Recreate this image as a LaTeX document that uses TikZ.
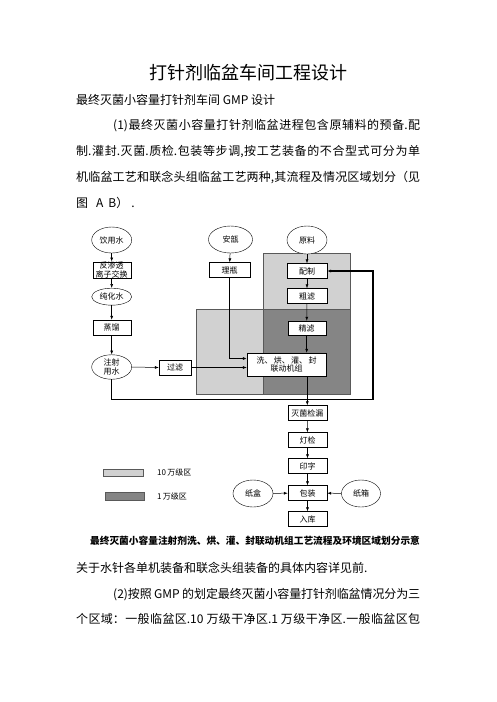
\documentclass[tikz,border=0pt]{standalone}
\usepackage{fontspec}
\setmainfont{Noto Sans CJK SC}
\usetikzlibrary{shapes.geometric,positioning,arrows.meta}
\XeTeXlinebreaklocale "zh"
\XeTeXlinebreakskip = 0pt plus 2pt minus 0.4pt
\tikzset{
  procbox/.style={draw,fill=white,minimum width=39pt,minimum height=15pt,inner sep=0pt,align=center,font=\fontsize{8}{8.5}\selectfont},
  srcell/.style={draw,fill=white,ellipse,minimum width=40pt,minimum height=27pt,inner sep=0pt,align=center,font=\fontsize{8}{9}\selectfont},
  flow/.style={->,>={Latex[length=4pt,width=3pt]},line width=0.5pt},
  heavyflow/.style={->,>={Latex[length=4pt,width=3.2pt]},line width=1.1pt},
  lightzone/.style={fill=black!18,draw=black!65,line width=0.4pt},
  darkzone/.style={fill=black!48,draw=black!65,line width=0.4pt},
  bodytext/.style={font=\fontsize{12}{26}\selectfont,text width=344pt,align=justify,inner sep=0pt,anchor=base west},
}
\begin{document}
\begin{tikzpicture}[x=1pt,y=-1pt]
  \useasboundingbox (0,0) rectangle (496,702);
  % page text
  \node[inner sep=0pt,font=\fontsize{18}{20}\selectfont] (title) at (248,73) {打针剂临盆车间工程设计};
  \node[inner sep=0pt,anchor=west,font=\fontsize{12}{14}\selectfont] (subtitle) at (76,100) {最终灭菌小容量打针剂车间 GMP 设计};
  \node[bodytext] (para1) at (76,129.6) {\hspace*{37pt}(1)最终灭菌小容量打针剂临盆进程包含原辅料的预备.配\linebreak
制.灌封.灭菌.质检.包装等步调,按工艺装备的不合型式可分为单\linebreak
机临盆工艺和联念头组临盆工艺两种,其流程及情况区域划分（见\linebreak
图\hspace{8pt}A\hspace{5pt}B）\hspace{3pt}.};

  % zones
  \draw[lightzone] (263,253) -| (350,394) -| (196,309) -| cycle;
  \draw[darkzone] (263,309) rectangle (350,394);

  % water line
  \node[srcell,minimum height=26pt] (yys) at (111.7,240) {饮用水};
  \node[procbox,minimum width=38pt,minimum height=16pt] (fst) at (111.7,269.7) {反渗透\\离子交换};
  \node[srcell,minimum height=17pt] (chs) at (111.7,296.7) {纯化水};
  \node[procbox,minimum width=38pt] (zl) at (111.7,327.5) {蒸馏};
  \node[srcell,minimum height=24.5pt] (zsys) at (111.7,367) {注射\\用水};
  \node[procbox,minimum width=32pt] (gl) at (175,367.5) {过滤};

  % ampoules and raw material
  \node[srcell,minimum width=44pt] (ab) at (230.5,239.5) {安瓿};
  \node[procbox,minimum width=41pt] (lp) at (229.5,270) {理瓶};
  \node[srcell,minimum height=28pt] (yl) at (307,240) {原料};
  \node[procbox,minimum width=40pt] (pz) at (307,271) {配制};
  \node[procbox,minimum width=40pt] (cl) at (307,296) {粗滤};
  \node[procbox,minimum width=38pt,minimum height=14pt] (jl) at (306.7,328) {精滤};
  \node[procbox,minimum width=79pt,minimum height=23pt] (wash) at (286.5,364.5) {洗、\,烘、\,灌、\,封\\联动机组};

  % finishing line
  \node[procbox] (mjl) at (307.3,413) {灭菌检漏};
  \node[procbox] (dj) at (307.5,440) {灯检};
  \node[procbox] (yz) at (307.5,466) {印字};
  \node[procbox] (bz) at (307.5,493) {包装};
  \node[procbox] (rk) at (307.5,519) {入库};
  \node[srcell] (zh) at (253,493.5) {纸盒};
  \node[srcell,minimum width=39pt] (zx) at (361,493.5) {纸箱};

  \draw[flow] (yys) -- (fst);
  \draw[flow] (fst) -- (chs);
  \draw[flow] (chs) -- (zl);
  \draw[flow] (zl) -- (zsys);
  \draw[flow] (zsys.east) -- (gl.west);
  \draw[flow] (gl.east) -- (gl.east -| wash.west);
  \draw[flow] (ab) -- (lp);
  \draw[heavyflow] (lp.south) |- ([yshift=6pt]wash.west);
  \draw[flow] (yl) -- (pz);
  \draw[flow] (pz) -- (cl);
  \draw[flow] (cl) -- (jl);
  \draw[flow] (jl.south) -- (jl.south |- wash.north);
  \draw[flow] (wash.south -| mjl.north) -- (mjl.north);
  \draw[flow] (mjl) -- (dj);
  \draw[flow] (dj) -- (yz);
  \draw[flow] (yz) -- (bz);
  \draw[flow] (bz) -- (rk);
  \draw[flow] (zh) -- (bz);
  \draw[flow] (zx) -- (bz);

  % injection water back to mixing
  \coordinate (loopL) at (111.7,399.5);
  \coordinate (loopR) at (373,399.5);
  \draw[heavyflow] (zsys.south) -- (loopL) -- (loopR) |- (pz.east);

  % legend
  \node[lightzone,minimum width=40pt,minimum height=7pt,inner sep=0pt] (keylight) at (123,472.5) {};
  \node[darkzone,minimum width=39pt,minimum height=8pt,inner sep=0pt] (keydark) at (124.5,496) {};
  \node[anchor=west,inner sep=0pt,font=\fontsize{8}{9}\selectfont] (keylighttext) at (157,472) {10\,万级区};
  \node[anchor=west,inner sep=0pt,font=\fontsize{8}{9}\selectfont] (keydarktext) at (157,496.5) {1\,万级区};

  % caption and following text
  \node[inner sep=0pt,font=\bfseries\fontsize{9.7}{11}\selectfont] (caption) at (255,541) {最终灭菌小容量注射剂洗、烘、灌、封联动机组工艺流程及环境区域划分示意};
  \node[bodytext,font=\fontsize{12}{25.5}\selectfont] (para2) at (76,572.6) {关于水针各单机装备和联念头组装备的具体内容详见前.\par
\hspace*{37pt}(2)按照 GMP 的划定最终灭菌小容量打针剂临盆情况分为三\linebreak
个区域：一般临盆区.10 万级干净区.1 万级干净区.一般临盆区包\parfillskip=0pt\par};
\end{tikzpicture}
\end{document}
